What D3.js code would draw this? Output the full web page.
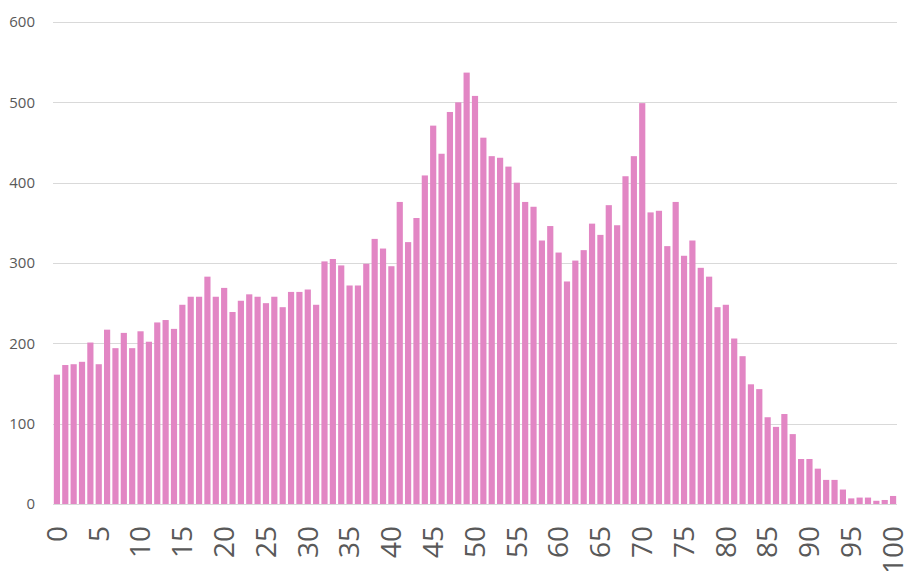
<!DOCTYPE html>
<html><head>
<meta charset="utf-8">
<script src="https://d3js.org/d3.v7.min.js"></script>
<style>
  body { margin: 0; background: #fff; }
  svg text { font-family: "Open Sans", sans-serif; fill: #595959; }
</style>
</head>
<body>
<div id="chart"></div>
<script>

// Category labels 0..100 and counts
const categories = d3.range(0, 101);
const counts = [
  161, 173, 174, 177, 201, 174, 217, 194, 213, 194,
  215, 202, 226, 229, 218, 248, 258, 258, 283, 258,
  269, 239, 253, 261, 258, 250, 258, 245, 264, 264,
  267, 248, 302, 305, 297, 272, 272, 299, 330, 318,
  296, 376, 326, 356, 409, 471, 436, 488, 500, 537,
  508, 456, 433, 431, 420, 400, 376, 370, 328, 346,
  313, 277, 303, 316, 349, 335, 372, 347, 408, 433,
  499, 363, 365, 321, 376, 309, 328, 294, 283, 245,
  248, 206, 184, 149, 143, 108, 96, 112, 87, 56,
  56, 44, 30, 30, 18, 7, 8, 8, 4, 5,
  10
];
const yTicks = [0, 100, 200, 300, 400, 500, 600];

const width = 909, height = 571;
const margin = { top: 22, right: 12, bottom: 67, left: 53 };
const chartWidth = width - margin.left - margin.right;
const chartHeight = height - margin.top - margin.bottom;

const svg = d3.select("#chart").append("svg")
              .attr("width", width)
              .attr("height", height);

const g = svg.append("g").attr("transform", "translate(" + margin.left + "," + margin.top + ")");

const xScale = d3.scaleBand().domain(categories).range([0, chartWidth]).paddingInner(0.26).paddingOuter(0.1);
const yScale = d3.scaleLinear().domain([0, 600]).range([chartHeight, 0]);

// gridlines
g.selectAll("line.grid")
 .data(yTicks)
 .join("line")
 .attr("class", "grid")
 .attr("x1", 0)
 .attr("x2", chartWidth)
 .attr("y1", d => Math.round(yScale(d)) + 0.5)
 .attr("y2", d => Math.round(yScale(d)) + 0.5)
 .attr("stroke", "#d9d9d9")
 .attr("stroke-width", 1);

// y labels
const yAxis = d3.axisLeft(yScale).tickValues(yTicks).tickSize(0).tickPadding(18);
const yAxisArea = g.append("g").call(yAxis);
yAxisArea.select(".domain").remove();
yAxisArea.selectAll("text").style("font-size", "15px");

// bars
g.selectAll("rect.bar")
 .data(counts)
 .join("rect")
 .attr("class", "bar")
 .attr("x", (d, i) => xScale(categories[i]))
 .attr("width", xScale.bandwidth())
 .attr("y", d => yScale(d))
 .attr("height", d => chartHeight - yScale(d))
 .attr("fill", "#e286c4");

// x labels every 5, rotated
const xAxis = d3.axisBottom(xScale).tickValues(categories.filter(d => d % 5 === 0)).tickSize(0);
const xAxisArea = g.append("g").attr("transform", "translate(0," + chartHeight + ")").call(xAxis);
xAxisArea.select(".domain").remove();
xAxisArea.selectAll("text")
         .style("font-size", "28px")
         .attr("text-anchor", "end")
         .attr("dy", "0.35em")
         .attr("transform", "translate(0,22) rotate(-90)")
         .attr("x", 0)
         .attr("y", 0);

</script>
</body>
</html>
